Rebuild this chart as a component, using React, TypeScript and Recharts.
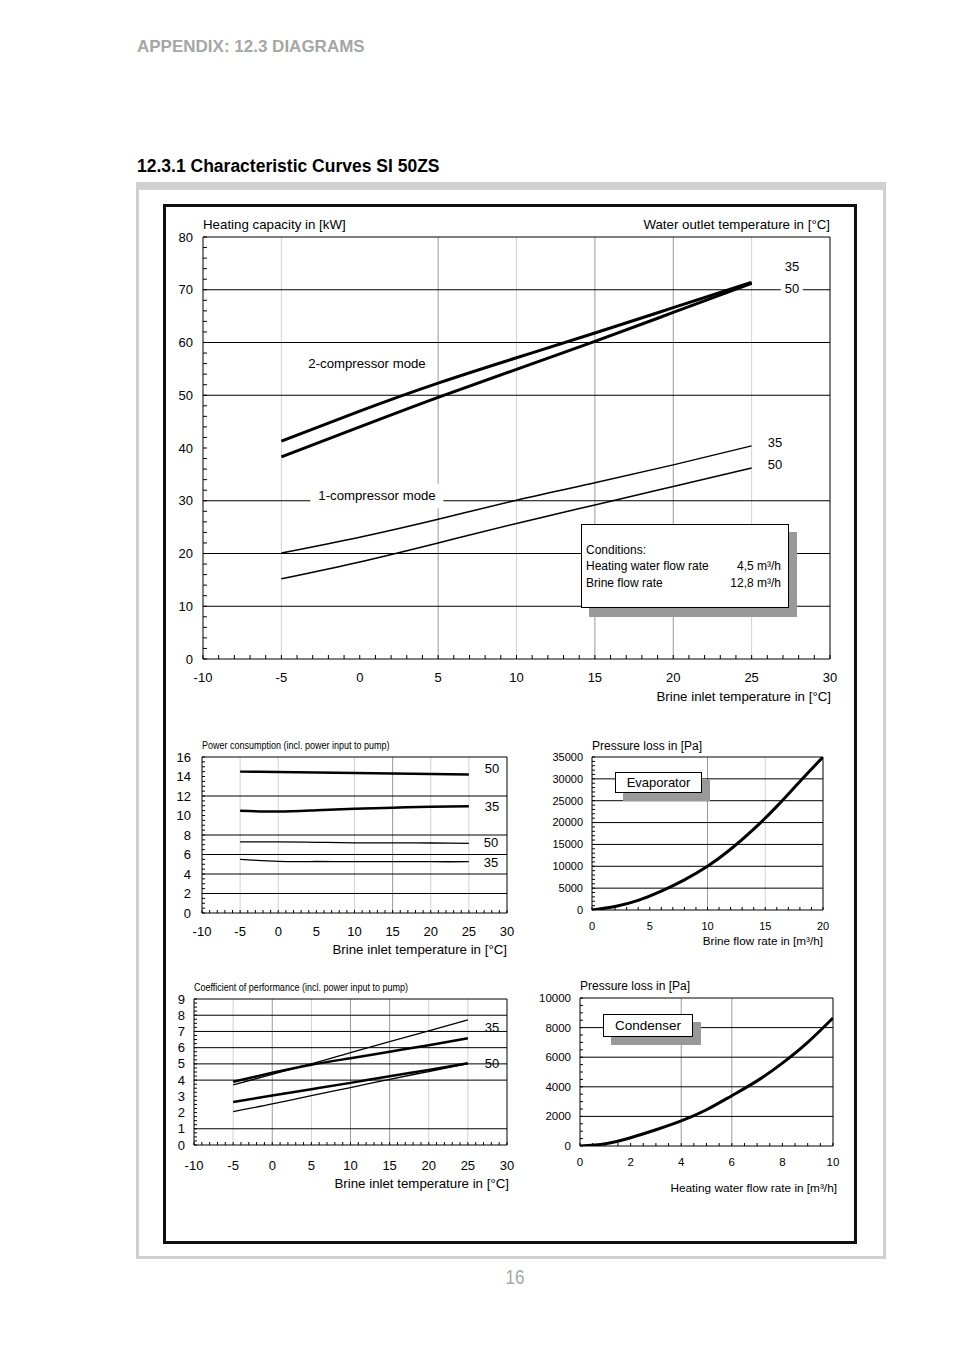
import { LineChart, Line, XAxis, YAxis, ReferenceLine } from 'recharts'

const FONT = "'Liberation Sans', Arial, Helvetica, sans-serif"
const LIGHT = '#d2d2d2'
const MID = '#9a9a9a'

// brine inlet temperature [°C], shared by capacity, power and COP
const BRINE_T = [-5, 0, 5, 10, 15, 20, 25]

// heating capacity [kW]
const CAP_2C_35 = [41.3, 47.0, 52.3, 57.1, 61.8, 66.6, 71.4]
const CAP_2C_50 = [38.3, 44.0, 49.6, 54.9, 60.2, 65.7, 71.2]
const CAP_1C_35 = [20.1, 23.1, 26.5, 30.1, 33.4, 36.8, 40.4]
const CAP_1C_50 = [15.2, 18.4, 22.0, 25.7, 29.2, 32.7, 36.2]

// power consumption [kW]
const POW_2C_50 = [14.5, 14.45, 14.4, 14.35, 14.3, 14.25, 14.2]
const POW_2C_35 = [10.5, 10.4, 10.55, 10.7, 10.8, 10.9, 10.95]
const POW_1C_50 = [7.3, 7.3, 7.25, 7.2, 7.2, 7.18, 7.15]
const POW_1C_35 = [5.5, 5.3, 5.28, 5.27, 5.27, 5.26, 5.26]

// coefficient of performance
const COP_2C_35 = [3.9, 4.45, 4.95, 5.35, 5.75, 6.15, 6.58]
const COP_1C_35 = [3.7, 4.36, 5.0, 5.7, 6.38, 7.04, 7.72]
const COP_2C_50 = [2.65, 3.05, 3.44, 3.83, 4.24, 4.63, 5.04]
const COP_1C_50 = [2.06, 2.53, 3.05, 3.54, 4.05, 4.53, 5.02]

// evaporator pressure loss [Pa] vs brine flow [m³/h]
const EVAP_FLOW = [0, 2, 4, 6, 8, 10, 12, 14, 16, 18, 20]
const EVAP_DP = [0, 800, 2200, 4300, 6900, 10000, 13900, 18500, 23700, 29400, 35000]

// condenser pressure loss [Pa] vs heating water flow [m³/h]
const COND_FLOW = [0, 1, 2, 3, 4, 5, 6, 7, 8, 9, 10]
const COND_DP = [0, 150, 560, 1100, 1700, 2450, 3400, 4400, 5600, 7000, 8650]

// axis labels
const TEMP_TICKS = [-10, -5, 0, 5, 10, 15, 20, 25, 30]
const CAP_TICKS = [0, 10, 20, 30, 40, 50, 60, 70, 80]
const POW_TICKS = [0, 2, 4, 6, 8, 10, 12, 14, 16]
const COP_TICKS = [0, 1, 2, 3, 4, 5, 6, 7, 8, 9]
const EVAP_X_TICKS = [0, 5, 10, 15, 20]
const EVAP_Y_TICKS = [0, 5000, 10000, 15000, 20000, 25000, 30000, 35000]
const COND_X_TICKS = [0, 2, 4, 6, 8, 10]
const COND_Y_TICKS = [0, 2000, 4000, 6000, 8000, 10000]

const range = (a: number, b: number, s: number) => {
  const out: number[] = []
  for (let v = a; v <= b + 1e-9; v += s) out.push(Math.round(v * 1000) / 1000)
  return out
}

const capRows = BRINE_T.map((x, i) => ({ x, a: CAP_2C_35[i], b: CAP_2C_50[i], c: CAP_1C_35[i], d: CAP_1C_50[i] }))
const powRows = BRINE_T.map((x, i) => ({ x, a: POW_2C_50[i], b: POW_2C_35[i], c: POW_1C_50[i], d: POW_1C_35[i] }))
const copRows = BRINE_T.map((x, i) => ({ x, a: COP_2C_35[i], b: COP_1C_35[i], c: COP_2C_50[i], d: COP_1C_50[i] }))
const evapRows = EVAP_FLOW.map((x, i) => ({ x, a: EVAP_DP[i] }))
const condRows = COND_FLOW.map((x, i) => ({ x, a: COND_DP[i] }))

type VLine = { v: number; c: string }
type Series = { key: string; w: number }

interface PanelProps {
  box: { left: number; top: number; width: number; height: number }
  margin: { top: number; right: number; bottom: number; left: number }
  yWidth: number
  xHeight: number
  data: Record<string, number>[]
  xDomain: [number, number]
  yDomain: [number, number]
  xTicks: number[]
  xMajor: number[]
  yTicks: number[]
  yMajor: number[]
  fontSize: number
  xGap: number
  yGap: number
  tick: number
  hLines: number[]
  vLines: VLine[]
  series: Series[]
}

function Panel(p: PanelProps) {
  const xMajor = new Set(p.xMajor)
  const yMajor = new Set(p.yMajor)

  const XTick = (t: any) => {
    const { x, y, payload } = t
    return (
      <g>
        <line x1={x} x2={x} y1={y} y2={y - p.tick} stroke="#000" />
        {xMajor.has(payload.value) && (
          <text x={x} y={y + p.xGap} dy="0.35em" textAnchor="middle" fontSize={p.fontSize} fontFamily={FONT} fill="#000">
            {payload.value}
          </text>
        )}
      </g>
    )
  }

  const YTick = (t: any) => {
    const { x, y, payload } = t
    return (
      <g>
        <line x1={x} x2={x + p.tick} y1={y} y2={y} stroke="#000" />
        {yMajor.has(payload.value) && (
          <text x={x - p.yGap} y={y} dy="0.35em" textAnchor="end" fontSize={p.fontSize} fontFamily={FONT} fill="#000">
            {payload.value}
          </text>
        )}
      </g>
    )
  }

  return (
    <div style={{ position: 'absolute', ...p.box }}>
      <LineChart width={p.box.width} height={p.box.height} data={p.data} margin={p.margin}>
        <XAxis
          type="number"
          dataKey="x"
          domain={p.xDomain}
          ticks={p.xTicks}
          interval={0}
          tick={XTick}
          tickSize={0}
          tickMargin={0}
          tickLine={false}
          axisLine={{ stroke: '#000' }}
          height={p.xHeight}
          allowDataOverflow
        />
        <YAxis
          type="number"
          domain={p.yDomain}
          ticks={p.yTicks}
          interval={0}
          tick={YTick}
          tickSize={0}
          tickMargin={0}
          tickLine={false}
          axisLine={{ stroke: '#000' }}
          width={p.yWidth}
          allowDataOverflow
        />
        {p.vLines.map(l => (
          <ReferenceLine key={'v' + l.v} x={l.v} stroke={l.c} strokeWidth={1} />
        ))}
        {p.hLines.map(v => (
          <ReferenceLine key={'h' + v} y={v} stroke="#000" strokeWidth={1} />
        ))}
        <ReferenceLine y={p.yDomain[1]} stroke="#000" />
        <ReferenceLine x={p.xDomain[1]} stroke="#000" />
        {p.series.map(s => (
          <Line
            key={s.key}
            dataKey={s.key}
            type="natural"
            stroke="#000"
            strokeWidth={s.w}
            dot={false}
            isAnimationActive={false}
          />
        ))}
      </LineChart>
    </div>
  )
}

function Txt({ x, y, children, size = 12, anchor = 'start', weight = 400, color = '#000', bg, pad = [0, 0], sx = 1 }: any) {
  const shift = anchor === 'end' ? '-100%' : anchor === 'middle' ? '-50%' : '0'
  const origin = anchor === 'end' ? 'right center' : anchor === 'middle' ? 'center' : 'left center'
  return (
    <div
      style={{
        position: 'absolute',
        left: x,
        top: y - size * 0.6 - pad[0],
        lineHeight: `${size * 1.2}px`,
        fontSize: size,
        fontFamily: FONT,
        fontWeight: weight,
        color,
        background: bg,
        padding: `${pad[0]}px ${pad[1]}px`,
        transform: `translateX(${shift}) scaleX(${sx})`,
        transformOrigin: origin,
        whiteSpace: 'nowrap'
      }}
    >
      {children}
    </div>
  )
}

function Boxed({ left, top, width, height, label, size }: any) {
  return (
    <>
      <div style={{ position: 'absolute', left: left + 8, top: top + 8, width, height, background: '#999' }} />
      <div
        style={{
          position: 'absolute',
          left,
          top,
          width,
          height,
          boxSizing: 'border-box',
          border: '1px solid #000',
          background: '#fff',
          fontFamily: FONT,
          fontSize: size,
          display: 'flex',
          alignItems: 'center',
          justifyContent: 'center'
        }}
      >
        {label}
      </div>
    </>
  )
}

export default function App() {
  return (
    <div style={{ position: 'absolute', left: 0, top: 0, width: 954, height: 1351, background: '#fff', fontFamily: FONT }}>
      <Txt x={137} y={47} size={17} weight={700} color="#a6a6a6">APPENDIX: 12.3 DIAGRAMS</Txt>
      <Txt x={137} y={166} size={17.5} weight={700}>12.3.1 Characteristic Curves SI 50ZS</Txt>

      {/* frames */}
      <div style={{ position: 'absolute', left: 136, top: 182, width: 750, height: 1077, boxSizing: 'border-box', border: '3px solid #d0d0d0', borderTopWidth: 8 }} />
      <div style={{ position: 'absolute', left: 163, top: 204, width: 694, height: 1040, boxSizing: 'border-box', border: '3px solid #111' }} />

      {/* heating capacity */}
      <Panel
        box={{ left: 150, top: 215, width: 700, height: 500 }}
        margin={{ top: 22, right: 20, bottom: 26, left: 13 }}
        yWidth={40}
        xHeight={30}
        data={capRows}
        xDomain={[-10, 30]}
        yDomain={[0, 80]}
        xTicks={range(-10, 30, 1)}
        xMajor={TEMP_TICKS}
        yTicks={range(0, 80, 2)}
        yMajor={CAP_TICKS}
        fontSize={13}
        xGap={18}
        yGap={10}
        tick={4}
        hLines={[10, 20, 30, 50, 60, 70]}
        vLines={[
          { v: -5, c: LIGHT }, { v: 5, c: MID }, { v: 10, c: LIGHT },
          { v: 15, c: MID }, { v: 20, c: MID }, { v: 25, c: LIGHT }
        ]}
        series={[{ key: 'a', w: 3 }, { key: 'b', w: 3 }, { key: 'c', w: 1.5 }, { key: 'd', w: 1.5 }]}
      />
      <Txt x={203} y={225} size={13.3}>Heating capacity in [kW]</Txt>
      <Txt x={830} y={225} size={13.3} anchor="end">Water outlet temperature in [°C]</Txt>
      <Txt x={831} y={697} size={13.3} anchor="end">Brine inlet temperature in [°C]</Txt>
      <Txt x={367} y={364} size={13.2} anchor="middle">2-compressor mode</Txt>
      <Txt x={377} y={496} size={13.2} anchor="middle" bg="#fff" pad={[4, 8]}>1-compressor mode</Txt>
      <Txt x={792} y={267} size={13} anchor="middle">35</Txt>
      <Txt x={792} y={289} size={13} anchor="middle" bg="#fff" pad={[0, 4]}>50</Txt>
      <Txt x={775} y={443} size={13} anchor="middle">35</Txt>
      <Txt x={775} y={465} size={13} anchor="middle">50</Txt>
      <div style={{ position: 'absolute', left: 589, top: 532, width: 208, height: 85, background: '#999' }} />
      <div style={{ position: 'absolute', left: 581, top: 524, width: 208, height: 84, boxSizing: 'border-box', border: '1px solid #000', background: '#fff' }} />
      <Txt x={586} y={550} size={12}>Conditions:</Txt>
      <Txt x={586} y={566} size={12}>Heating water flow rate</Txt>
      <Txt x={781} y={566} size={12} anchor="end">4,5 m³/h</Txt>
      <Txt x={586} y={583} size={12}>Brine flow rate</Txt>
      <Txt x={781} y={583} size={12} anchor="end">12,8 m³/h</Txt>

      {/* power consumption */}
      <Panel
        box={{ left: 160, top: 740, width: 360, height: 200 }}
        margin={{ top: 17, right: 13, bottom: 7, left: 12 }}
        yWidth={30}
        xHeight={20}
        data={powRows}
        xDomain={[-10, 30]}
        yDomain={[0, 16]}
        xTicks={range(-10, 30, 1)}
        xMajor={TEMP_TICKS}
        yTicks={range(0, 16, 0.5)}
        yMajor={POW_TICKS}
        fontSize={13}
        xGap={18}
        yGap={11}
        tick={3}
        hLines={[2, 4, 6, 8, 12]}
        vLines={[
          { v: -5, c: LIGHT }, { v: 0, c: LIGHT }, { v: 10, c: LIGHT },
          { v: 15, c: MID }, { v: 20, c: LIGHT }, { v: 25, c: LIGHT }
        ]}
        series={[{ key: 'a', w: 2.5 }, { key: 'b', w: 2.5 }, { key: 'c', w: 1.3 }, { key: 'd', w: 1.3 }]}
      />
      <Txt x={202} y={746} size={10} sx={0.9}>Power consumption (incl. power input to pump)</Txt>
      <Txt x={507} y={950} size={13.3} anchor="end">Brine inlet temperature in [°C]</Txt>
      <Txt x={492} y={769} size={13} anchor="middle">50</Txt>
      <Txt x={492} y={807} size={13} anchor="middle">35</Txt>
      <Txt x={491} y={843} size={13} anchor="middle">50</Txt>
      <Txt x={491} y={863} size={13} anchor="middle">35</Txt>

      {/* evaporator */}
      <Panel
        box={{ left: 540, top: 740, width: 300, height: 215 }}
        margin={{ top: 17, right: 17, bottom: 25, left: 12 }}
        yWidth={40}
        xHeight={20}
        data={evapRows}
        xDomain={[0, 20]}
        yDomain={[0, 35000]}
        xTicks={range(0, 20, 1)}
        xMajor={EVAP_X_TICKS}
        yTicks={range(0, 35000, 1000)}
        yMajor={EVAP_Y_TICKS}
        fontSize={11}
        xGap={16}
        yGap={9}
        tick={3}
        hLines={[5000, 10000, 15000, 20000, 25000, 30000]}
        vLines={[{ v: 10, c: MID }, { v: 15, c: LIGHT }]}
        series={[{ key: 'a', w: 3 }]}
      />
      <Txt x={592} y={746} size={12}>Pressure loss in [Pa]</Txt>
      <Txt x={823} y={941} size={11.7} anchor="end">Brine flow rate in [m³/h]</Txt>
      <Boxed left={615} top={772} width={87} height={21} label="Evaporator" size={13} />

      {/* coefficient of performance */}
      <Panel
        box={{ left: 150, top: 980, width: 370, height: 215 }}
        margin={{ top: 19, right: 13, bottom: 30, left: 14 }}
        yWidth={30}
        xHeight={20}
        data={copRows}
        xDomain={[-10, 30]}
        yDomain={[0, 9]}
        xTicks={range(-10, 30, 1)}
        xMajor={TEMP_TICKS}
        yTicks={range(0, 9, 0.25)}
        yMajor={COP_TICKS}
        fontSize={13}
        xGap={20}
        yGap={9}
        tick={3}
        hLines={[1, 4, 5, 6, 7, 8]}
        vLines={[
          { v: -5, c: LIGHT }, { v: 0, c: MID }, { v: 5, c: LIGHT }, { v: 10, c: MID },
          { v: 15, c: MID }, { v: 20, c: LIGHT }, { v: 25, c: LIGHT }
        ]}
        series={[{ key: 'a', w: 2.5 }, { key: 'b', w: 1.3 }, { key: 'c', w: 2.5 }, { key: 'd', w: 1.3 }]}
      />
      <Txt x={194} y={988} size={10} sx={0.9}>Coefficient of performance (incl. power input to pump)</Txt>
      <Txt x={509} y={1184} size={13.3} anchor="end">Brine inlet temperature in [°C]</Txt>
      <Txt x={492} y={1028} size={13} anchor="middle">35</Txt>
      <Txt x={492} y={1064} size={13} anchor="middle">50</Txt>

      {/* condenser */}
      <Panel
        box={{ left: 530, top: 980, width: 320, height: 220 }}
        margin={{ top: 18, right: 17, bottom: 34, left: 10 }}
        yWidth={40}
        xHeight={20}
        data={condRows}
        xDomain={[0, 10]}
        yDomain={[0, 10000]}
        xTicks={range(0, 10, 0.5)}
        xMajor={COND_X_TICKS}
        yTicks={range(0, 10000, 500)}
        yMajor={COND_Y_TICKS}
        fontSize={11.5}
        xGap={16}
        yGap={9}
        tick={3}
        hLines={[2000, 4000, 6000, 8000]}
        vLines={[{ v: 4, c: MID }, { v: 6, c: MID }]}
        series={[{ key: 'a', w: 3 }]}
      />
      <Txt x={580} y={986} size={12}>Pressure loss in [Pa]</Txt>
      <Txt x={837} y={1188} size={11.8} anchor="end">Heating water flow rate in [m³/h]</Txt>
      <Boxed left={603} top={1014} width={90} height={23} label="Condenser" size={13.5} />

      <Txt x={515} y={1277} size={20} anchor="middle" color="#a6a6a6" sx={0.85}>16</Txt>
    </div>
  )
}
